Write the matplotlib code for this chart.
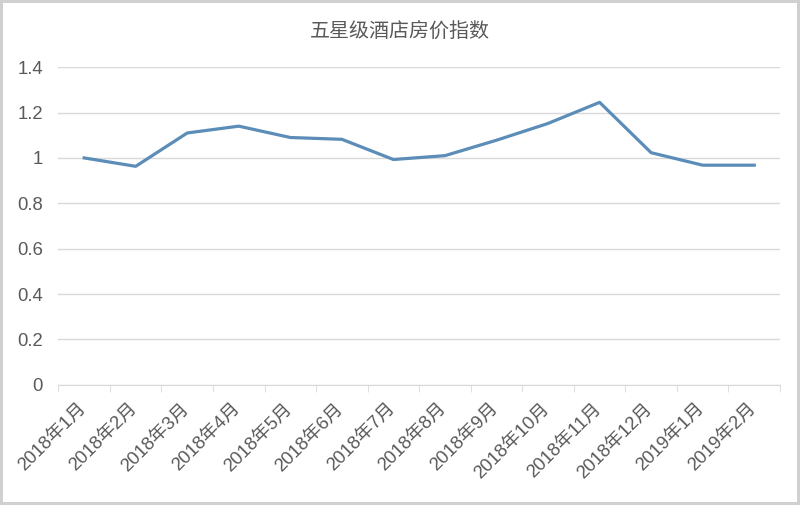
import matplotlib.pyplot as plt
import matplotlib.transforms as mtransforms
import numpy as np

plt.rcParams['font.family'] = ['Liberation Sans', 'Noto Sans CJK SC', 'DejaVu Sans']

months = ['2018年1月', '2018年2月', '2018年3月', '2018年4月', '2018年5月',
          '2018年6月', '2018年7月', '2018年8月', '2018年9月', '2018年10月',
          '2018年11月', '2018年12月', '2019年1月', '2019年2月']
index = [1.00, 0.963, 1.11, 1.14, 1.09, 1.082, 0.993, 1.01, 1.078, 1.152,
         1.245, 1.023, 0.968, 0.968]
yticks = [0, 0.2, 0.4, 0.6, 0.8, 1.0, 1.2, 1.4]
ylabels = ['0', '0.2', '0.4', '0.6', '0.8', '1', '1.2', '1.4']

fig = plt.figure(figsize=(8, 5.05), dpi=100)
fig.patch.set_edgecolor('#d0d0d0')
fig.patch.set_linewidth(3)
ax = fig.add_axes([0.073, 0.238, 0.902, 0.629])

x = np.arange(len(months))
ax.plot(x, index, color='#5b8db8', lw=2.3, solid_joinstyle='round')

ax.set_xlim(-0.5, len(months) - 0.5)
ax.set_ylim(0, 1.4)
ax.set_yticks(yticks)
ax.set_yticklabels(ylabels, fontsize=13.3, color='#595959')
ax.yaxis.grid(True, color='#d9d9d9', lw=1)
ax.set_axisbelow(True)
ax.tick_params(axis='y', length=0, pad=11)

ax.set_xticks(x)
ax.set_xticklabels(months, rotation=45, ha='right', va='top',
                   rotation_mode='anchor', fontsize=13.3, color='#595959')
ax.set_xticks(np.arange(-0.5, len(months)), minor=True)
ax.tick_params(axis='x', which='major', length=0, pad=11)
ax.tick_params(axis='x', which='minor', length=5, color='#d9d9d9')
# nudge the slanted labels a little to the left, as in the original
shift = mtransforms.ScaledTranslation(-5 / 72, 0, fig.dpi_scale_trans)
for lab in ax.get_xticklabels():
    lab.set_transform(lab.get_transform() + shift)

for s in ['top', 'right', 'left']:
    ax.spines[s].set_visible(False)
ax.spines['bottom'].set_color('#d9d9d9')

fig.text(0.5, 0.939, '五星级酒店房价指数', ha='center', va='center',
         fontsize=14.4, color='#595959')

fig.savefig('out.png', dpi=100, edgecolor=fig.get_edgecolor())
